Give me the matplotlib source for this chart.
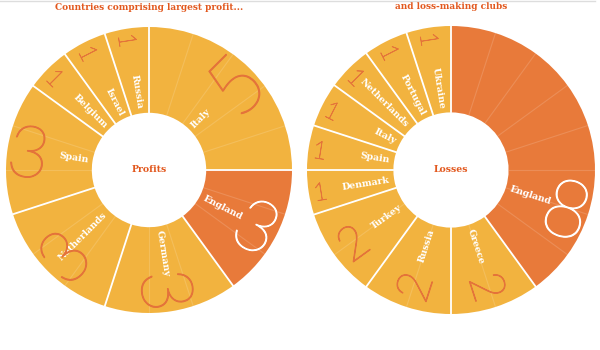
import numpy as np
import matplotlib
matplotlib.use("Agg")
import matplotlib.pyplot as plt
import matplotlib.patheffects as pe

# Countries of the clubs with the largest profits (one slice per club)
profit_countries = ["Italy", "England", "Germany", "Netherlands", "Spain",
                    "Belgium", "Israel", "Russia"]
profit_counts = [5, 3, 3, 3, 3, 1, 1, 1]

# Countries of the loss-making clubs
loss_countries = ["England", "Greece", "Russia", "Turkey", "Denmark", "Spain",
                  "Italy", "Netherlands", "Portugal", "Ukraine"]
loss_counts = [8, 2, 2, 2, 1, 1, 1, 1, 1, 1]

titles = ["Countries comprising largest profit...", "and loss-making clubs"]
centre_labels = ["Profits", "Losses"]

LIGHT = "#F2B33F"
DARK = "#E87A3A"
RED = "#E2581E"
NUM = "#E4733A"
INNER = 0.40

num_size = {1: 18, 2: 34, 3: 52, 5: 58, 8: 58}
serif = dict(family="DejaVu Serif", weight="bold", stretch="condensed")

fig = plt.figure(figsize=(6, 3.5), dpi=100)
fig.add_artist(plt.Line2D([0, 0.992], [0.997, 0.997], color="#dddddd", lw=1,
                          transform=fig.transFigure))


def donut(ax, countries, counts, centre, title, angle_fix=None):
    total = sum(counts)
    colors = [DARK if c == "England" else LIGHT for c in countries]
    ax.pie(counts, colors=colors, startangle=90, counterclock=False, radius=1,
           wedgeprops=dict(width=1 - INNER, linewidth=0))

    # faint line between single clubs
    for k in range(total):
        th = np.deg2rad(90 - 360 * k / total)
        ax.plot([INNER * np.cos(th), np.cos(th)], [INNER * np.sin(th), np.sin(th)],
                color="white", alpha=0.15, lw=0.8)
    # white line between countries
    edges = np.cumsum([0] + counts)
    for e in edges[:-1]:
        th = np.deg2rad(90 - 360 * e / total)
        ax.plot([INNER * np.cos(th), np.cos(th)], [INNER * np.sin(th), np.sin(th)],
                color="white", lw=1.3)

    for i, (name, n) in enumerate(zip(countries, counts)):
        theta = 360 * (edges[i] + n / 2) / total   # clockwise from 12 o'clock
        if angle_fix and name in angle_fix:
            theta = angle_fix[name]
        phi = 90 - theta
        if theta < 180:
            rot, ha = phi, "left"
        else:
            rot, ha = phi + 180, "right"
        c, s = np.cos(np.deg2rad(phi)), np.sin(np.deg2rad(phi))
        r_lab = INNER + 0.03
        ax.text(r_lab * c, r_lab * s, name, rotation=rot, rotation_mode="anchor",
                ha=ha, va="center", color="white", fontsize=7.5, **serif)
        r_num = 0.92 if n == 1 else 0.85
        col = "white" if name == "England" else NUM
        ax.text(r_num * c, r_num * s, str(n), rotation=rot, rotation_mode="anchor",
                ha="center", va="center_baseline", family="Lato", weight="light",
                fontsize=num_size[n], color=col,
                path_effects=[pe.withStroke(linewidth=0.8 if n > 1 else 0.5,
                                            foreground=col)])

    ax.text(0, 0, centre, ha="center", va="center", color=RED, fontsize=7.5, **serif)
    ax.text(0, 1.135, title, ha="center", va="center", color=RED, fontsize=7.2, **serif)
    ax.set_xlim(-1, 1)
    ax.set_ylim(-1, 1)
    ax.set_aspect("equal")
    ax.axis("off")


ax1 = fig.add_axes([6 / 600, 37 / 350, 286 / 600, 286 / 350])
donut(ax1, profit_countries, profit_counts, centre_labels[0], titles[0])

ax2 = fig.add_axes([307 / 600, 36 / 350, 288 / 600, 288 / 350])
donut(ax2, loss_countries, loss_counts, centre_labels[1], titles[1],
      angle_fix={"England": 108})

fig.savefig("out.png", dpi=100)
